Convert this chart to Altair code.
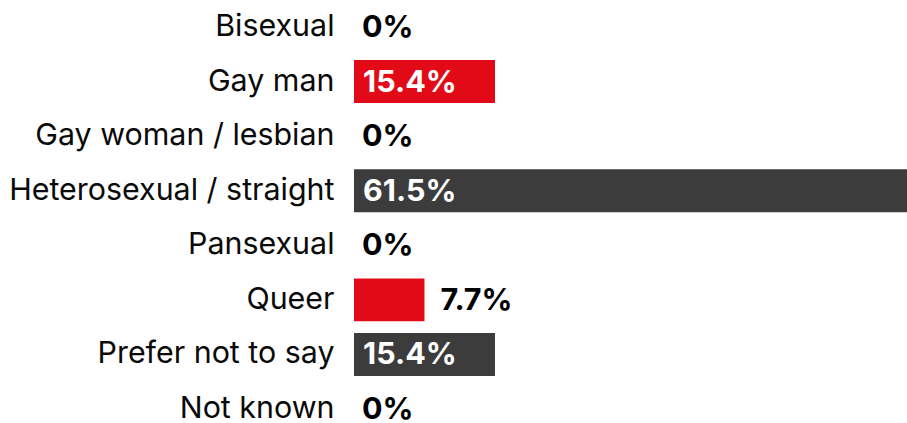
import altair as alt
import pandas as pd

categories = ["Bisexual", "Gay man", "Gay woman / lesbian", "Heterosexual / straight",
              "Pansexual", "Queer", "Prefer not to say", "Not known"]
values = [0, 15.4, 0, 61.5, 0, 7.7, 15.4, 0]
groups = ["lgb", "lgb", "lgb", "other", "lgb", "lgb", "other", "other"]
labels = ["0%", "15.4%", "0%", "61.5%", "0%", "7.7%", "15.4%", "0%"]

df = pd.DataFrame({"cat": categories, "value": values, "group": groups, "label": labels})

X_MAX = 60.4
RED = "#e20a16"
DARK = "#3c3c3c"
FONT = "Inter"

y_enc = alt.Y("cat:N", sort=categories,
              scale=alt.Scale(range=[0, 436], paddingInner=0.213, paddingOuter=0.1),
              axis=alt.Axis(title=None, ticks=False, domain=False, labelPadding=20,
                            labelFontSize=30.4, labelFont=FONT, labelColor="#0a0a0a",
                            labelFontWeight="normal", labelLimit=400))
x_enc = alt.X("value:Q", scale=alt.Scale(domain=[0, X_MAX], clamp=True, nice=False, zero=True), axis=None)

base = alt.Chart(df)

bars = base.mark_bar(clip=True).encode(
    y=y_enc, x=x_enc,
    color=alt.Color("group:N", scale=alt.Scale(domain=["lgb", "other"], range=[RED, DARK]), legend=None),
)

txt = dict(align="left", baseline="middle", dy=1, font=FONT, fontWeight="bold", fontSize=30.5)

inside = base.transform_filter("datum.value >= 10").mark_text(
    dx=9, color="white", **txt
).encode(y=alt.Y("cat:N", sort=categories), x=alt.datum(0), text="label:N")

zero = base.transform_filter("datum.value == 0").mark_text(
    dx=8, color="black", **txt
).encode(y=alt.Y("cat:N", sort=categories), x="value:Q", text="label:N")

outside = base.transform_filter("datum.value > 0 && datum.value < 10").mark_text(
    dx=16, color="black", **txt
).encode(y=alt.Y("cat:N", sort=categories), x="value:Q", text="label:N")

chart = alt.layer(bars, inside, zero, outside).properties(
    width=553, height=423,
    autosize=alt.AutoSizeParams(type="none"),
    padding={"left": 354, "top": 0, "right": 0, "bottom": 0},
).configure_view(stroke=None)

chart.save("out.html", embed_options={"renderer": "svg", "actions": False})
